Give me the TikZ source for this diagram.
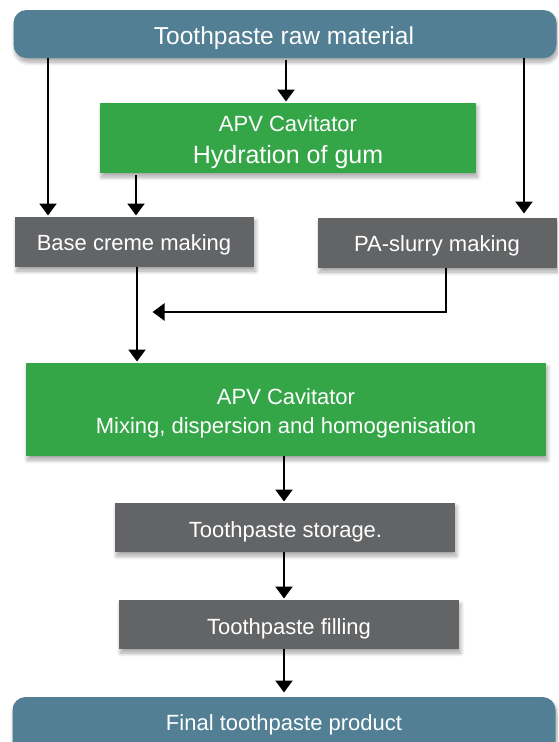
\documentclass[tikz,border=0pt]{standalone}
\usepackage{fontspec}
\setmainfont{Liberation Sans}
\usetikzlibrary{arrows.meta,shadows.blur}
\definecolor{capblue}{RGB}{82,127,148}
\definecolor{capgreen}{RGB}{52,166,72}
\definecolor{capgray}{RGB}{99,100,102}
\begin{document}
\begin{tikzpicture}[x=1pt,y=-1pt,
  shade/.style={blur shadow={shadow xshift=1.5pt,shadow yshift=-4pt,shadow opacity=35,shadow blur steps=8,shadow blur radius=4pt}},
  boxbase/.style={inner sep=0pt,outer sep=0pt,text=white,shade},
  endbox/.style={boxbase,fill=capblue,rounded corners=13pt},
  greenbox/.style={boxbase,fill=capgreen},
  graybox/.style={boxbase,fill=capgray},
  lbl/.style={text=white,inner sep=0pt,font=\fontsize{22}{26}\selectfont},
  flow/.style={-{Triangle[width=17pt,length=12pt]},line width=2.3pt,black,shorten >=1.5pt}
]
\useasboundingbox (0,0) rectangle (558,742);
\clip (0,0) rectangle (558,742);

% boxes
\node[endbox,minimum width=543pt,minimum height=48pt] (top) at (285,34) {};
\node[greenbox,minimum width=376pt,minimum height=70pt] (hyd) at (288,138) {};
\node[graybox,minimum width=239pt,minimum height=50pt] (base) at (134.5,242) {};
\node[graybox,minimum width=239pt,minimum height=50pt] (pa) at (437.5,243) {};
\node[greenbox,minimum width=520pt,minimum height=93pt] (mix) at (286,409.5) {};
\node[graybox,minimum width=340pt,minimum height=49pt] (store) at (285,527.5) {};
\node[graybox,minimum width=340pt,minimum height=49pt] (fill) at (289,624.5) {};
\node[endbox,minimum width=543pt,minimum height=64pt] (final) at (284,729) {};

% texts
\node[lbl,font=\fontsize{24.5}{28}\selectfont,anchor=base] (toptxt) at (284,44) {Toothpaste raw material};
\node[lbl,anchor=base] (hyd1) at (288,131) {APV Cavitator};
\node[lbl,font=\fontsize{25}{29}\selectfont,anchor=base] (hyd2) at (288,163.5) {Hydration of gum};
\node[lbl,anchor=base] (basetxt) at (134,250.5) {Base creme making};
\node[lbl,anchor=base] (patxt) at (437,251) {PA-slurry making};
\node[lbl,anchor=base] (mix1) at (286,404) {APV Cavitator};
\node[lbl,anchor=base] (mix2) at (286,433) {Mixing, dispersion and homogenisation};
\node[lbl,anchor=base] (storetxt) at (285.5,537) {Toothpaste storage.};
\node[lbl,anchor=base] (filltxt) at (289,634) {Toothpaste filling};
\node[lbl,anchor=base] (finaltxt) at (284,730) {Final toothpaste product};

% connector columns
\coordinate (cL) at (48,0);
\coordinate (cM) at (286,0);
\coordinate (cH) at (136,0);
\coordinate (cR) at (524,0);
\coordinate (cB) at (137,0);
\coordinate (cP) at (446,0);
\coordinate (cC) at (284,0);
\coordinate (join) at (446,312);
\coordinate (joinend) at (151,312);

% connectors
\draw[flow] (top.south -| cL) -- (base.north -| cL);
\draw[flow] ([yshift=-2pt]top.south -| cM) -- (hyd.north -| cM);
\draw[flow] ([yshift=-2pt]hyd.south -| cH) -- (base.north -| cH);
\draw[flow] (top.south -| cR) -- ([yshift=3pt]pa.north -| cR);
\draw[flow] (base.south -| cB) -- (mix.north -| cB);
\draw[flow] (pa.south -| cP) -- (join) -- (joinend);
\draw[flow] (mix.south -| cC) -- (store.north -| cC);
\draw[flow] (store.south -| cC) -- (fill.north -| cC);
\draw[flow] (fill.south -| cC) -- ([yshift=3pt]final.north -| cC);
\end{tikzpicture}
\end{document}
